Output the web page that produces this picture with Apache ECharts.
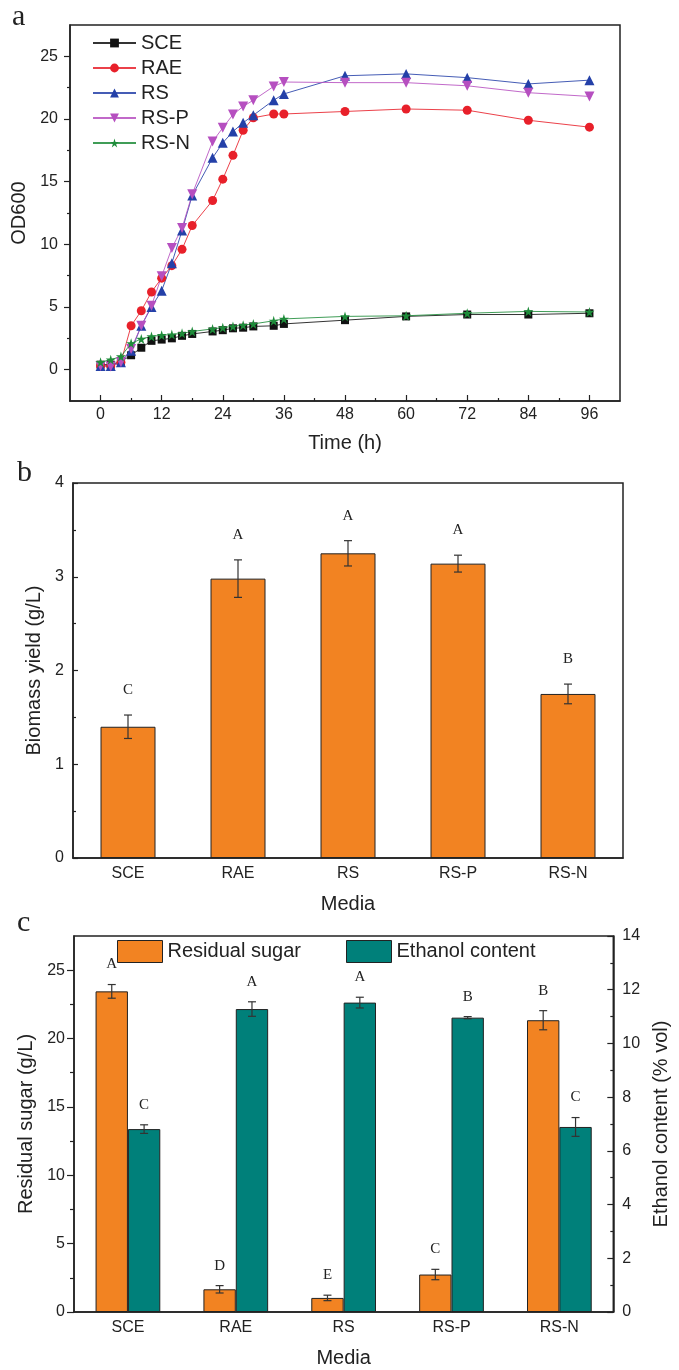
<!DOCTYPE html>
<html>
<head>
<meta charset="utf-8">
<script src="https://cdn.jsdelivr.net/npm/echarts@6/dist/echarts.min.js"></script>
<style>
  html, body { margin: 0; padding: 0; background: #fff; }
  #main { width: 679px; height: 1370px; }
</style>
</head>
<body>
<div id="main"></div>
<script>
// ---- panel a: growth curves (OD600) ----
var hours = [0, 2, 4, 6, 8, 10, 12, 14, 16, 18, 22, 24, 26, 28, 30, 34, 36, 48, 60, 72, 84, 96];
var odSCE = [0.4, 0.4, 0.65, 1.15, 1.75, 2.3, 2.4, 2.5, 2.7, 2.85, 3.05, 3.15, 3.3, 3.35, 3.45, 3.5, 3.65, 3.95, 4.25, 4.4, 4.4, 4.5];
var odRAE = [0.3, 0.3, 0.6, 3.5, 4.7, 6.2, 7.3, 8.3, 9.6, 11.5, 13.5, 15.2, 17.1, 19.1, 20.1, 20.4, 20.4, 20.6, 20.8, 20.7, 19.9, 19.35];
var odRS = [0.3, 0.3, 0.6, 1.5, 3.5, 5.0, 6.3, 8.5, 11.1, 13.9, 16.9, 18.1, 19.0, 19.7, 20.3, 21.5, 22.0, 23.45, 23.6, 23.3, 22.8, 23.1];
var odRSP = [0.3, 0.25, 0.6, 1.65, 3.5, 5.1, 7.45, 9.7, 11.3, 14.0, 18.2, 19.3, 20.35, 21.0, 21.5, 22.6, 22.95, 22.9, 22.9, 22.65, 22.1, 21.8];
var odRSN = [0.6, 0.8, 1.05, 2.1, 2.45, 2.65, 2.75, 2.8, 2.9, 3.05, 3.25, 3.35, 3.45, 3.55, 3.65, 3.9, 4.05, 4.25, 4.3, 4.5, 4.65, 4.6];
var hourTicks = [0, 12, 24, 36, 48, 60, 72, 84, 96];
var hourMinor = [6, 18, 30, 42, 54, 66, 78, 90];
var odTicks = [0, 5, 10, 15, 20, 25];
var odMinor = [2.5, 7.5, 12.5, 17.5, 22.5];

// ---- panel b: biomass ----
var media = ['SCE', 'RAE', 'RS', 'RS-P', 'RS-N'];
var biomass = [1.40, 2.98, 3.25, 3.14, 1.75];
var biomassErr = [0.125, 0.2, 0.135, 0.09, 0.105];
var biomassLetters = ['C', 'A', 'A', 'A', 'B'];

// ---- panel c: residual sugar & ethanol ----
var sugar = [23.45, 1.66, 1.03, 2.74, 21.34];
var sugarErr = [0.5, 0.27, 0.2, 0.38, 0.7];
var sugarLetters = ['A', 'D', 'E', 'C', 'B'];
var ethanol = [6.81, 11.28, 11.52, 10.96, 6.89];
var ethanolErr = [0.16, 0.27, 0.2, 0.04, 0.35];
var ethanolLetters = ['C', 'A', 'A', 'B', 'C'];
var sugarTicks = [0, 5, 10, 15, 20, 25];
var sugarMinor = [2.5, 7.5, 12.5, 17.5, 22.5];

var SANS = '"Liberation Sans", Arial, sans-serif';
var SERIF = '"Liberation Serif", "Times New Roman", serif';
var INK = '#222';
var ORANGE = '#F28322';
var TEAL = '#00807A';

var chart = echarts.init(document.getElementById('main'));

function pairs(xs, ys) {
  return xs.map(function (x, i) { return [x, ys[i]]; });
}
function withErr(vals, errs) {
  return vals.map(function (v, i) { return [i, v, errs[i]]; });
}

// error bar + significance letter drawn above it
function errBar(letters, gap, shift) {
  return function (params, api) {
    var idx = api.value(0), v = api.value(1), e = api.value(2);
    var dx = api.size([1, 0])[0] * shift;
    var hi = api.coord([idx, v + e]);
    var lo = api.coord([idx, v - e]);
    var x = hi[0] + dx, c = 4;
    var st = { stroke: '#333', lineWidth: 1.2 };
    return {
      type: 'group',
      children: [
        { type: 'line', shape: { x1: x, y1: hi[1], x2: x, y2: lo[1] }, style: st },
        { type: 'line', shape: { x1: x - c, y1: hi[1], x2: x + c, y2: hi[1] }, style: st },
        { type: 'line', shape: { x1: x - c, y1: lo[1], x2: x + c, y2: lo[1] }, style: st },
        {
          type: 'text', x: x, y: hi[1] - gap,
          style: {
            text: letters[params.dataIndex], fill: INK,
            font: '15px ' + SERIF, align: 'center', verticalAlign: 'middle'
          }
        }
      ]
    };
  };
}

var tickLabel = { color: INK, fontSize: 16, fontFamily: SANS };
var axisLine = { show: true, onZero: false, lineStyle: { color: INK, width: 1.5 } };
var noLine = { show: false, onZero: false };
var nameStyle = { color: INK, fontSize: 20, fontFamily: SANS };

var STAR = 'path://M50,0 L61,35 L98,35 L68,57 L79,91 L50,70 L21,91 L32,57 L2,35 L39,35 Z';
var DOWN = 'path://M0,0 L10,0 L5,9 Z';

function curve(name, data, color, symbol, size) {
  return {
    name: name, type: 'line', xAxisIndex: 0, yAxisIndex: 0,
    data: pairs(hours, data), symbol: symbol, symbolSize: size,
    itemStyle: { color: color },
    lineStyle: { color: color, width: 1, opacity: 0.85 },
    emphasis: { disabled: true }, animation: false
  };
}

var option = {
  animation: false,
  textStyle: { fontFamily: SANS },
  grid: [
    { left: 70, top: 25, width: 550, height: 376, show: true, borderColor: INK, borderWidth: 1.5 },
    { left: 73, top: 483, width: 550, height: 375, show: true, borderColor: INK, borderWidth: 1.5 },
    { left: 74, top: 936, width: 549, height: 376, show: true, borderColor: INK, borderWidth: 1.5 }
  ],
  legend: [
    {
      data: ['SCE', 'RAE', 'RS', 'RS-P', 'RS-N'],
      orient: 'vertical', left: 92, top: 33, padding: 0,
      itemWidth: 43, itemHeight: 11, itemGap: 5,
      textStyle: { color: INK, fontSize: 20, fontFamily: SANS, lineHeight: 20 }
    },
    {
      data: ['Residual sugar'], left: 117, top: 940, padding: 0,
      itemWidth: 45, itemHeight: 22, icon: 'rect',
      itemStyle: { borderColor: INK, borderWidth: 1 },
      textStyle: { color: INK, fontSize: 20, fontFamily: SANS }
    },
    {
      data: ['Ethanol content'], left: 346, top: 940, padding: 0,
      itemWidth: 45, itemHeight: 22, icon: 'rect',
      itemStyle: { borderColor: INK, borderWidth: 1 },
      textStyle: { color: INK, fontSize: 20, fontFamily: SANS }
    }
  ],
  xAxis: [
    {
      gridIndex: 0, type: 'value', position: 'bottom', min: -6, max: 102,
      splitLine: { show: false }, axisLine: axisLine,
      axisTick: { show: true, inside: true, length: 6, customValues: hourTicks, lineStyle: { color: INK, width: 1.2 } },
      axisLabel: Object.assign({ margin: 6, customValues: hourTicks }, tickLabel),
      name: 'Time (h)', nameLocation: 'middle', nameGap: 32, nameTextStyle: nameStyle
    },
    {
      gridIndex: 0, type: 'value', position: 'bottom', min: -6, max: 102,
      splitLine: { show: false }, axisLine: noLine, axisLabel: { show: false },
      axisTick: { show: true, inside: true, length: 3, customValues: hourMinor, lineStyle: { color: INK, width: 1.2 } }
    },
    {
      gridIndex: 1, type: 'category', position: 'bottom', data: media,
      axisLine: axisLine, axisTick: { show: false },
      axisLabel: Object.assign({ margin: 8 }, tickLabel),
      name: 'Media', nameLocation: 'middle', nameGap: 36, nameTextStyle: nameStyle
    },
    {
      gridIndex: 2, type: 'category', position: 'bottom', data: media,
      axisLine: axisLine, axisTick: { show: false },
      axisLabel: Object.assign({ margin: 8 }, tickLabel),
      name: 'Media', nameLocation: 'middle', nameGap: 36, nameTextStyle: nameStyle
    }
  ],
  yAxis: [
    {
      gridIndex: 0, type: 'value', position: 'left', min: -2.5, max: 27.5,
      splitLine: { show: false }, axisLine: axisLine,
      axisTick: { show: true, length: 6, customValues: odTicks, lineStyle: { color: INK, width: 1.2 } },
      axisLabel: Object.assign({ margin: 12, customValues: odTicks }, tickLabel),
      name: 'OD600', nameLocation: 'middle', nameGap: 38, nameTextStyle: nameStyle
    },
    {
      gridIndex: 0, type: 'value', position: 'left', min: -2.5, max: 27.5,
      splitLine: { show: false }, axisLine: noLine, axisLabel: { show: false },
      axisTick: { show: true, length: 3, customValues: odMinor, lineStyle: { color: INK, width: 1.2 } }
    },
    {
      gridIndex: 1, type: 'value', position: 'left', min: 0, max: 4, interval: 1,
      splitLine: { show: false }, axisLine: axisLine,
      axisTick: { show: true, inside: true, length: 5, lineStyle: { color: INK, width: 1.2 } },
      minorTick: { show: true, splitNumber: 2, length: 3, lineStyle: { color: INK, width: 1.2 } },
      axisLabel: Object.assign({ margin: 9 }, tickLabel),
      name: 'Biomass yield (g/L)', nameLocation: 'middle', nameGap: 26, nameTextStyle: nameStyle
    },
    {
      gridIndex: 2, type: 'value', position: 'left', min: 0, max: 27.5,
      splitLine: { show: false }, axisLine: axisLine,
      axisTick: { show: true, length: 7, customValues: sugarTicks, lineStyle: { color: INK, width: 1.2 } },
      axisLabel: Object.assign({ margin: 9, customValues: sugarTicks }, tickLabel),
      name: 'Residual sugar (g/L)', nameLocation: 'middle', nameGap: 36, nameTextStyle: nameStyle
    },
    {
      gridIndex: 2, type: 'value', position: 'left', min: 0, max: 27.5,
      splitLine: { show: false }, axisLine: noLine, axisLabel: { show: false },
      axisTick: { show: true, length: 4, customValues: sugarMinor, lineStyle: { color: INK, width: 1.2 } }
    },
    {
      gridIndex: 2, type: 'value', position: 'right', min: 0, max: 14, interval: 2,
      splitLine: { show: false }, axisLine: axisLine,
      axisTick: { show: true, inside: true, length: 6, lineStyle: { color: INK, width: 1.2 } },
      minorTick: { show: true, splitNumber: 2, length: 3, lineStyle: { color: INK, width: 1.2 } },
      axisLabel: Object.assign({ margin: 9 }, tickLabel),
      name: 'Ethanol content (% vol)', nameLocation: 'middle', nameGap: 35, nameTextStyle: nameStyle
    }
  ],
  graphic: [
    { type: 'text', left: 12, top: 2, style: { text: 'a', font: '30px ' + SERIF, fill: INK } },
    { type: 'text', left: 17, top: 458, style: { text: 'b', font: '30px ' + SERIF, fill: INK } },
    { type: 'text', left: 17, top: 908, style: { text: 'c', font: '30px ' + SERIF, fill: INK } }
  ],
  series: [
    curve('SCE', odSCE, '#111111', 'rect', 8),
    curve('RAE', odRAE, '#e8202a', 'circle', 9),
    curve('RS', odRS, '#2440a8', 'triangle', 10),
    curve('RS-P', odRSP, '#b64fc0', DOWN, 10),
    curve('RS-N', odRSN, '#1e8c3a', STAR, 10),
    {
      name: 'Biomass yield', type: 'bar', xAxisIndex: 2, yAxisIndex: 2,
      data: biomass, barWidth: '50%',
      itemStyle: { color: ORANGE, borderColor: INK, borderWidth: 1 }
    },
    {
      type: 'custom', xAxisIndex: 2, yAxisIndex: 2, z: 5,
      data: withErr(biomass, biomassErr), encode: { x: 0, y: 1 },
      renderItem: errBar(biomassLetters, 25, 0)
    },
    {
      name: 'Residual sugar', type: 'bar', xAxisIndex: 3, yAxisIndex: 3,
      data: sugar, barWidth: '30%', barGap: '0%',
      itemStyle: { color: ORANGE, borderColor: INK, borderWidth: 1 }
    },
    {
      name: 'Ethanol content', type: 'bar', xAxisIndex: 3, yAxisIndex: 5,
      data: ethanol, barWidth: '30%', barGap: '0%',
      itemStyle: { color: TEAL, borderColor: INK, borderWidth: 1 }
    },
    {
      type: 'custom', xAxisIndex: 3, yAxisIndex: 3, z: 5,
      data: withErr(sugar, sugarErr), encode: { x: 0, y: 1 },
      renderItem: errBar(sugarLetters, 20, -0.15)
    },
    {
      type: 'custom', xAxisIndex: 3, yAxisIndex: 5, z: 5,
      data: withErr(ethanol, ethanolErr), encode: { x: 0, y: 1 },
      renderItem: errBar(ethanolLetters, 20, 0.15)
    }
  ]
};

chart.setOption(option);
</script>
</body>
</html>
